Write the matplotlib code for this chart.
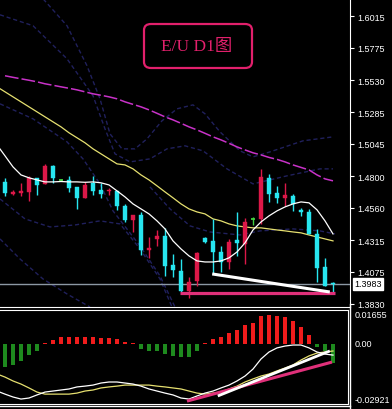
import matplotlib
matplotlib.use('Agg')
import matplotlib.pyplot as plt
from matplotlib.patches import FancyBboxPatch
from matplotlib.lines import Line2D
import numpy as np

# ---------------- data ----------------
opens  = [1.4757,1.4666,1.4674,1.4681,1.4788,1.4742,1.4879,1.4772,1.4772,1.4719,1.4636,1.4750,1.4696,1.4685,
          1.4689,1.4575,1.4468,1.4506,1.4240,1.4324,1.4347,1.4126,1.4081,1.3929,1.4005,1.4332,1.4309,1.4225,
          1.4149,1.4316,1.4286,1.4476,1.4476,1.4788,1.4674,1.4636,1.4651,1.4544,1.4529,1.4362,1.4111,1.3990]
highs  = [1.4788,1.4696,1.4750,1.4803,1.4788,1.4894,1.4886,1.4780,1.4803,1.4719,1.4757,1.4803,1.4750,1.4712,
          1.4689,1.4590,1.4506,1.4529,1.4339,1.4392,1.4408,1.4210,1.4172,1.4035,1.4225,1.4339,1.4476,1.4271,
          1.4324,1.4529,1.4484,1.4491,1.4856,1.4818,1.4727,1.4750,1.4666,1.4560,1.4552,1.4400,1.4180,1.3997]
lows   = [1.4651,1.4658,1.4651,1.4613,1.4658,1.4742,1.4750,1.4765,1.4681,1.4552,1.4636,1.4658,1.4636,1.4658,
          1.4544,1.4453,1.4377,1.4202,1.4180,1.4271,1.4043,1.4035,1.3921,1.3876,1.3967,1.4294,1.4066,1.4073,
          1.4096,1.4195,1.4134,1.4430,1.4438,1.4605,1.4598,1.4575,1.4537,1.4499,1.4362,1.3997,1.3967,1.3921]
closes = [1.4674,1.4681,1.4689,1.4788,1.4734,1.4879,1.4788,1.4772,1.4712,1.4636,1.4734,1.4689,1.4666,1.4692,
          1.4575,1.4468,1.4506,1.4240,1.4256,1.4347,1.4119,1.4088,1.3929,1.3997,1.4218,1.4301,1.4225,1.4149,
          1.4301,1.4294,1.4453,1.4476,1.4795,1.4666,1.4636,1.4658,1.4590,1.4529,1.4362,1.4104,1.3967,1.3983]

# moving averages (first value belongs to the bar before the first visible one)
ma_fast = [1.5038,1.4955,1.4871,1.4810,1.4788,1.4772,1.4757,1.4757,1.4760,1.4757,1.4757,1.4754,1.4757,1.4750,
           1.4734,1.4689,1.4643,1.4590,1.4552,1.4514,1.4461,1.4400,1.4309,1.4248,1.4195,1.4157,1.4149,1.4149,
           1.4157,1.4180,1.4225,1.4294,1.4392,1.4453,1.4499,1.4537,1.4567,1.4590,1.4605,1.4598,1.4545,1.4461,1.4362]
ma_mid  = [1.5479,1.5441,1.5403,1.5365,1.5327,1.5289,1.5251,1.5213,1.5175,1.5130,1.5092,1.5054,1.5008,1.4970,
           1.4932,1.4894,1.4886,1.4856,1.4810,1.4772,1.4727,1.4681,1.4636,1.4590,1.4552,1.4529,1.4514,1.4476,
           1.4461,1.4438,1.4423,1.4415,1.4408,1.4408,1.4400,1.4392,1.4385,1.4377,1.4370,1.4354,1.4339,1.4324,1.4309]
ma_slow = [1.5563,1.5551,1.5540,1.5529,1.5517,1.5502,1.5491,1.5479,1.5468,1.5456,1.5441,1.5426,1.5415,1.5403,
           1.5388,1.5365,1.5346,1.5327,1.5304,1.5278,1.5251,1.5228,1.5202,1.5175,1.5152,1.5126,1.5099,1.5076,
           1.5050,1.5023,1.5000,1.4978,1.4962,1.4943,1.4928,1.4909,1.4886,1.4867,1.4848,1.4810,1.4780,1.4765]

# dim envelope / band curves (bar position, price)
band_u1_x = [3.5,4.75,7.75,10.25,11.875,13.125,14.625,16.25,17.75,19.625,21.5,23.5,25.0,26.875,29.375,31.0,33.125,37.25,41.0]
band_u1_y = [1.632,1.6148,1.5943,1.5639,1.5388,1.5122,1.5008,1.5008,1.5084,1.5221,1.5312,1.5342,1.5274,1.5137,1.4993,1.4947,1.4985,1.5069,1.5099]
band_u2_x = [-0.625,3.5,7.75,11.0,12.5,13.75,15.625,18.125,20.25,22.5,24.75,27.75,31.0,35.25,39.375,41.0]
band_u2_y = [1.6026,1.5943,1.5692,1.5411,1.5160,1.4970,1.4909,1.4932,1.5008,1.5031,1.4993,1.4856,1.4742,1.4803,1.4856,1.4856]
band_l1_x = [-0.625,3.5,7.75,9.75,11.875,13.5,16.875,19.375,21.25]
band_l1_y = [1.5350,1.5236,1.5061,1.4932,1.4742,1.4537,1.4271,1.4043,1.3807]
band_l2_x = [-0.625,2.5,5.625,8.75,11.875,14.375,16.875,19.375,20.875]
band_l2_y = [1.4628,1.4476,1.4415,1.4430,1.4461,1.4438,1.4248,1.4020,1.3807]
band_l3_x = [-0.625,1.875,4.75,7.75,10.625]
band_l3_y = [1.4324,1.4172,1.4020,1.3906,1.3807]
band_r1_x = [18.125,20.625,23.125,25.625,29.375,31.875,36.0,39.375,41.25]
band_r1_y = [1.4719,1.4552,1.4423,1.4377,1.4354,1.4385,1.4400,1.4385,1.4362]

# trend lines drawn by the analyst
tl_price_white_x = [25.9, 40.6]
tl_price_white_y = [1.4058, 1.3921]
tl_price_pink_x  = [21.9, 41.25]
tl_price_pink_y  = [1.3912, 1.3912]
last_price = 1.3983

price_ticks = [1.6015,1.5775,1.5530,1.5285,1.5045,1.4800,1.4560,1.4315,1.4075,1.3830]
price_labels = ['1.6015','1.5775','1.5530','1.5285','1.5045','1.4800','1.4560','1.4315','1.4075','1.3830']

# oscillator
osc_hist = [-0.0112,-0.0102,-0.0083,-0.0054,-0.0034,0.0005,0.0019,0.0034,0.0034,0.0034,0.0034,0.0034,0.0029,0.0029,
            0.0024,0.0010,0.0005,-0.0024,-0.0034,-0.0034,-0.0049,-0.0058,-0.0063,-0.0063,-0.0034,0.0005,0.0024,0.0034,
            0.0054,0.0068,0.0093,0.0102,0.0136,0.0141,0.0136,0.0131,0.0112,0.0083,0.0044,-0.0015,-0.0034,-0.0093]
osc_main = [-0.0229,-0.0244,-0.0258,-0.0268,-0.0263,-0.0248,-0.0234,-0.0229,-0.0224,-0.0219,-0.0209,-0.0205,-0.0200,
            -0.0190,-0.0185,-0.0185,-0.0190,-0.0195,-0.0205,-0.0219,-0.0229,-0.0239,-0.0248,-0.0263,-0.0268,-0.0253,
            -0.0239,-0.0229,-0.0214,-0.0200,-0.0180,-0.0156,-0.0122,-0.0073,-0.0039,-0.0019,-0.0010,-0.0005,-0.0005,
            -0.0019,-0.0039,-0.0049,-0.0054]
osc_signal = [-0.0146,-0.0161,-0.0180,-0.0195,-0.0214,-0.0234,-0.0244,-0.0244,-0.0244,-0.0244,-0.0239,-0.0229,-0.0224,
              -0.0214,-0.0209,-0.0205,-0.0200,-0.0200,-0.0200,-0.0200,-0.0205,-0.0209,-0.0214,-0.0219,-0.0229,-0.0239,
              -0.0244,-0.0239,-0.0234,-0.0219,-0.0205,-0.0185,-0.0170,-0.0156,-0.0146,-0.0131,-0.0117,-0.0102,-0.0078,
              -0.0058,-0.0044,-0.0039,-0.0034]
tl_osc_pink_x  = [22.75, 40.875]
tl_osc_pink_y  = [-0.0278, -0.0088]
tl_osc_white_x = [26.6, 40.6]
tl_osc_white_y = [-0.0253, -0.0034]
osc_max, osc_min = 0.01655, -0.02921
osc_ticks = [0.01655, 0.0, -0.02921]
osc_labels = ['0.01655', '0.00', '-0.02921']

title_text = 'E/U D1'
title_cjk = '图'

# ---------------- figure ----------------
W, H = 392, 410
fig = plt.figure(figsize=(W/100, H/100), dpi=100, facecolor='black')

def rect(x0, y0, x1, y1):
    return [x0/W, 1 - y1/H, (x1-x0)/W, (y1-y0)/H]

ax = fig.add_axes(rect(0, 0, 350, 308))
ax2 = fig.add_axes(rect(0, 311, 348, 405))

BULL = '#dc1848'
BEAR = '#27e6f0'
DOJI = '#40d040'
LBL_FONT = 'Liberation Sans'

n = len(opens)
idx = np.arange(n)
idx_ext = np.arange(-1, n)

for a in (ax, ax2):
    a.set_facecolor('black')
    for s in a.spines.values():
        s.set_visible(False)

ax.set_xlim(-0.625, 43.125)
ax.set_ylim(1.3807, 1.6146)

# bands
band_col = '#20205c'
for bx, by in [(band_u1_x, band_u1_y), (band_u2_x, band_u2_y), (band_l1_x, band_l1_y),
               (band_l2_x, band_l2_y), (band_l3_x, band_l3_y), (band_r1_x, band_r1_y)]:
    ax.plot(bx, by, color=band_col, lw=1.0, ls=(0, (3, 2)), zorder=1)

# moving averages
ax.plot(idx, ma_slow, color='#c832c8', lw=1.1, ls=(0, (9, 2)), zorder=2)
ax.plot(idx_ext, ma_mid, color='#e6e070', lw=0.9, zorder=2)

# current price line
ax.axhline(last_price, color='#8c98a4', lw=1.0, zorder=2)

# candles
bw = 0.62
for i in range(n):
    o, h, l, c = opens[i], highs[i], lows[i], closes[i]
    if c > o:
        col = BULL
    elif c < o:
        col = BEAR
    else:
        col = DOJI
    ax.vlines(i, l, h, color=col, lw=1.0, zorder=3)
    lo, hi = min(o, c), max(o, c)
    if hi - lo < 0.0003:
        ax.hlines((o + c) / 2, i - bw / 2, i + bw / 2, color=col, lw=1.3, zorder=4)
    else:
        ax.bar(i, hi - lo, bottom=lo, width=bw, color=col, edgecolor=col, lw=0.3, zorder=4)

ax.plot(idx_ext, ma_fast, color='white', lw=0.9, zorder=5)

# trend lines
ax.plot(tl_price_pink_x, tl_price_pink_y, color='#e0307a', lw=2.3, solid_capstyle='butt', zorder=6)
ax.plot(tl_price_white_x, tl_price_white_y, color='white', lw=2.2, solid_capstyle='butt', zorder=6)

# right axis
ax.yaxis.tick_right()
ax.set_yticks(price_ticks)
ax.set_yticklabels(price_labels)
ax.tick_params(axis='y', colors='white', length=3, width=0.8, pad=2, labelsize=6.5, direction='out')
for t in ax.get_yticklabels():
    t.set_fontfamily(LBL_FONT)
ax.set_xticks([])
ax.spines['right'].set_visible(True)
ax.spines['right'].set_color('white')
ax.spines['bottom'].set_visible(True)
ax.spines['bottom'].set_color('white')

ax.annotate('1.3983', xy=(1.0, last_price), xycoords=('axes fraction', 'data'),
            xytext=(3.0, 0), textcoords='offset points', ha='left', va='center',
            fontsize=6.5, family=LBL_FONT, color='black',
            bbox=dict(boxstyle='square,pad=0.15', fc='white', ec='white'), annotation_clip=False)

# title box
box = FancyBboxPatch((144/350, 1 - 69/308), (252-144)/350, (69-25)/308,
                     boxstyle='round,pad=0,rounding_size=0.02', transform=ax.transAxes,
                     fc='none', ec='#e2206c', lw=1.6, zorder=7)
ax.add_patch(box)
ax.text(0.563, 1 - 47/308, title_text + title_cjk, transform=ax.transAxes, ha='center', va='center',
        color='#e2206c', fontsize=12.5, family=['Liberation Serif', 'Noto Sans CJK SC'], zorder=7)

# ---------------- oscillator ----------------
ax2.set_xlim(-0.625, 42.875)
ax2.set_ylim(osc_min, osc_max)
hcols = ['#f01c1c' if v > 0 else '#1e8a1e' for v in osc_hist]
ax2.bar(idx, osc_hist, width=0.4, color=hcols, zorder=2)
ax2.plot(idx_ext, osc_signal, color='#e6e070', lw=0.9, zorder=3)
ax2.plot(idx_ext, osc_main, color='white', lw=0.9, zorder=3)
ax2.plot(tl_osc_pink_x, tl_osc_pink_y, color='#e0307a', lw=2.2, solid_capstyle='butt', zorder=4)
ax2.plot(tl_osc_white_x, tl_osc_white_y, color='white', lw=2.0, solid_capstyle='butt', zorder=4)

ax2.yaxis.tick_right()
ax2.set_yticks(osc_ticks)
ax2.set_yticklabels(osc_labels)
ax2.tick_params(axis='y', colors='white', length=0, pad=5, labelsize=6.5)
vas = ['top', 'center', 'bottom']
for t, va in zip(ax2.get_yticklabels(), vas):
    t.set_fontfamily(LBL_FONT)
    t.set_va(va)
ax2.set_xticks([])
for side in ('top', 'bottom', 'right'):
    ax2.spines[side].set_visible(True)
    ax2.spines[side].set_color('white')

# outer frame lines
fig.add_artist(Line2D([0, 350/W], [1 - 407/H, 1 - 407/H], color='white', lw=1.0))
fig.add_artist(Line2D([350/W, 350/W], [1 - 410/H, 1 - 305/H], color='white', lw=1.0))

fig.savefig('out.png', dpi=100, facecolor='black')
